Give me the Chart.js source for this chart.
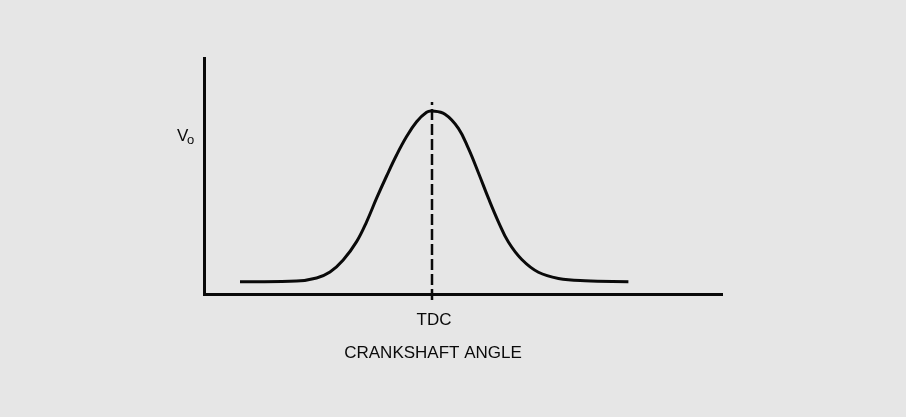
<!DOCTYPE html>
<html>
<head>
<meta charset="utf-8">
<script src="https://cdn.jsdelivr.net/npm/chart.js@4.4.1/dist/chart.umd.min.js"></script>
<style>
  html, body { margin: 0; padding: 0; background: #e6e6e6; }
  #wrap { width: 906px; height: 417px; }
</style>
</head>
<body>
<div id="wrap"><canvas id="c" width="906" height="417"></canvas></div>
<script>
// Sensor output voltage versus crankshaft angle (angle in degrees, TDC = 0)
const crankAngle = [-96, -67.7, -57.7, -51, -44.4, -37.7, -32.7, -27.7, -22.7, -17.7, -12.7,
                    -7.7, -2.7, 0, 6.5, 13.2, 18.2, 23.2, 28.2, 33.2, 38.2, 44.9, 53.2,
                    63.2, 76.5, 98.2];
const outputVoltage = [5.2, 5.5, 6.8, 9.3, 14.4, 22.2, 30.6, 40.6, 50.0, 58.9, 66.7,
                       73.0, 77.0, 77.5, 76.2, 70.2, 61.7, 51.4, 40.6, 30.6, 22.0, 14.6, 9.2,
                       6.6, 5.6, 5.2];

// TDC marker: vertical dashed line at angle 0
const tdcAngle = 0;
const tdcSpan = [-2.5, 81.4];

// Axis ranges
const angleRange = [-114, 145];
const voltageRange = [0, 100];

// Labels
const xTickLabel = 'TDC';
const xTitle = 'CRANKSHAFT ANGLE';
const yTitleMain = 'V';
const yTitleSub = 'o';

const FONT = '"Liberation Sans", Arial, Helvetica, sans-serif';
const INK = '#0a0a0a';

const labelsPlugin = {
  id: 'axisLabels',
  afterDraw(chart) {
    const { ctx, chartArea: area, scales } = chart;
    const xTdc = scales.x.getPixelForValue(tdcAngle);
    ctx.save();
    ctx.fillStyle = INK;
    ctx.textBaseline = 'alphabetic';
    ctx.font = '17px ' + FONT;
    ctx.textAlign = 'center';
    ctx.fillText(xTickLabel, xTdc + 2, area.bottom + 31);
    ctx.fillText(xTitle, xTdc + 1, area.bottom + 64);
    ctx.textAlign = 'left';
    ctx.fillText(yTitleMain, area.left - 27, area.top + 83);
    ctx.font = '13px ' + FONT;
    ctx.fillText(yTitleSub, area.left - 17, area.top + 86);
    ctx.restore();
  }
};

new Chart(document.getElementById('c'), {
  type: 'line',
  data: {
    datasets: [
      {
        data: crankAngle.map((a, i) => ({ x: a, y: outputVoltage[i] })),
        borderColor: INK,
        borderWidth: 3,
        pointRadius: 0,
        tension: 0.4,
        fill: false
      },
      {
        data: tdcSpan.map(v => ({ x: tdcAngle, y: v })),
        borderColor: INK,
        borderWidth: 2.5,
        borderDash: [11, 4],
        pointRadius: 0,
        clip: false,
        fill: false
      }
    ]
  },
  options: {
    responsive: false,
    animation: false,
    devicePixelRatio: 1,
    layout: { padding: { top: 58, right: 184, bottom: 0, left: 0 } },
    plugins: { legend: { display: false }, tooltip: { enabled: false } },
    scales: {
      x: {
        type: 'linear',
        min: angleRange[0],
        max: angleRange[1],
        grid: { display: false, drawTicks: false },
        ticks: { display: false },
        border: { display: true, color: INK, width: 3 },
        afterFit(s) { s.height = 123; }
      },
      y: {
        type: 'linear',
        min: voltageRange[0],
        max: voltageRange[1],
        grid: { display: false, drawTicks: false },
        ticks: { display: false },
        border: { display: true, color: INK, width: 3 },
        afterFit(s) { s.width = 204; }
      }
    }
  },
  plugins: [labelsPlugin]
});
</script>
</body>
</html>
